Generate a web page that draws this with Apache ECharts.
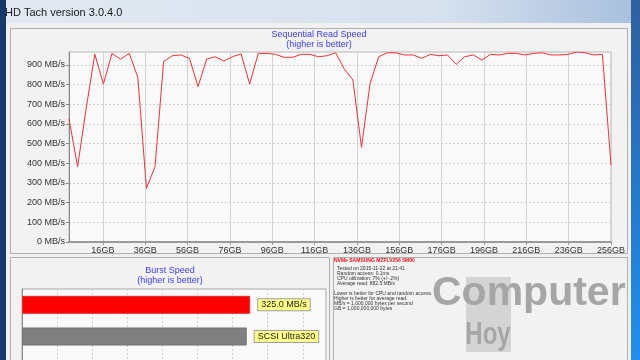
<!DOCTYPE html>
<html><head><meta charset="utf-8">
<script src="https://cdn.jsdelivr.net/npm/echarts@6/dist/echarts.min.js"></script>
<style>html,body{margin:0;padding:0;background:#f0f0f0;overflow:hidden}#c{width:640px;height:360px}</style>
</head><body><div id="c"></div>
<script>
// ---- data ----
const driveCapacityGB = 256;
const readSpeedMBs = [
  625, 383, 680, 955, 803, 959, 929, 959, 837, 273,
  383, 917, 947, 951, 934, 790, 930, 942, 920, 942,
  956, 803, 959, 959, 954, 939, 939, 954, 954, 942,
  947, 962, 880, 824, 481, 807, 942, 962, 962, 951,
  951, 934, 954, 947, 951, 903, 942, 951, 925, 954,
  951, 959, 959, 951, 959, 962, 951, 951, 954, 966,
  962, 951, 954, 391
];
const xTickGB = [16, 36, 56, 76, 96, 116, 136, 156, 176, 196, 216, 236, 256];
const yTickMBs = [0, 100, 200, 300, 400, 500, 600, 700, 800, 900];
const yMaxMBs = 966;
const burstCategories = ['Burst', 'Interface', ''];
const burstValues = [325.0, 320, null];
const burstLabels = ['325.0 MB/s', 'SCSI Ultra320', ''];
const burstTicks = 50;
const burstMax = 433;
const infoTitle = 'NVMe SAMSUNG MZFLV256 5M00';
const infoLines = [
  'Tested on 2015-11-22 at 21:41',
  'Random access: 0.1ms',
  'CPU utilization: 7% (+/- 2%)',
  'Average read: 882.5 MB/s',
  '',
  'Lower is better for CPU and random access.',
  'Higher is better for average read.',
  'MB/s = 1,000,000 bytes per second',
  'GB = 1,000,000,000 bytes'
];

const lineData = readSpeedMBs.map((v, i) => [i * driveCapacityGB / (readSpeedMBs.length - 1), v]);

const FONT = '"Liberation Sans", Arial, sans-serif';
const chart = echarts.init(document.getElementById('c'), null, {renderer: 'canvas'});

const graphics = [
  // desktop strips
  {type: 'rect', z: -20, shape: {x: 0, y: 0, width: 6, height: 360}, style: {fill: '#17386b'}},
  {type: 'rect', z: -20, shape: {x: 631, y: 0, width: 9, height: 360},
   style: {fill: new echarts.graphic.LinearGradient(0, 0, 0, 1, [{offset: 0, color: '#2f5f9e'}, {offset: 1, color: '#1f8ff0'}])}},
  // title bar
  {type: 'rect', z: -20, shape: {x: 6, y: 0, width: 625, height: 23},
   style: {fill: new echarts.graphic.LinearGradient(0, 0, 1, 0, [{offset: 0, color: '#e2e9f2'}, {offset: 0.7, color: '#d6e1ee'}, {offset: 1, color: '#a9c0de'}])}},
  {type: 'text', z: 5, style: {x: 5, y: 13, text: 'HD Tach version 3.0.4.0', fill: '#1a1a1a', font: '11px ' + FONT, verticalAlign: 'middle'}},
  // window body
  {type: 'rect', z: -19, shape: {x: 6, y: 23, width: 625, height: 337}, style: {fill: '#f0f0f0'}},
  // top panel
  {type: 'rect', z: -18, shape: {x: 10.5, y: 28.5, width: 617, height: 225}, style: {fill: '#f2f2f2', stroke: '#b0b0b0', lineWidth: 1}},
  {type: 'text', z: 5, style: {x: 319, y: 35, text: 'Sequential Read Speed', fill: '#3a3aff', font: '9px ' + FONT, align: 'center', verticalAlign: 'middle'}},
  {type: 'text', z: 5, style: {x: 319, y: 45, text: '(higher is better)', fill: '#3a3aff', font: '9px ' + FONT, align: 'center', verticalAlign: 'middle'}},
  // bottom-left panel
  {type: 'rect', z: -18, shape: {x: 10.5, y: 257.5, width: 319, height: 110}, style: {fill: '#f2f2f2', stroke: '#b0b0b0', lineWidth: 1}},
  {type: 'text', z: 5, style: {x: 170, y: 271, text: 'Burst Speed', fill: '#3a3aff', font: '9px ' + FONT, align: 'center', verticalAlign: 'middle'}},
  {type: 'text', z: 5, style: {x: 170, y: 281, text: '(higher is better)', fill: '#3a3aff', font: '9px ' + FONT, align: 'center', verticalAlign: 'middle'}},
  // bottom-right panel
  {type: 'rect', z: -18, shape: {x: 333.5, y: 257.5, width: 294, height: 110}, style: {fill: '#f2f2f2', stroke: '#b0b0b0', lineWidth: 1}},
  // logo watermark
  {type: 'rect', z: -10, shape: {x: 466, y: 277, width: 45, height: 75}, style: {fill: '#d4d4d4'}},
  {type: 'text', z: -9, style: {x: 432, y: 294, text: 'Computer', fill: '#a6a6a6', font: 'bold 41px ' + FONT, verticalAlign: 'middle'}},
  {type: 'text', z: -9, x: 488, y: 335, scaleX: 0.75, style: {x: 0, y: 0, text: 'Hoy', fill: '#a6a6a6', font: 'bold 32px ' + FONT, align: 'center', verticalAlign: 'middle'}},
  {type: 'text', z: 5, style: {x: 334, y: 261, text: infoTitle, fill: '#ee1111', font: 'bold 5px ' + FONT, verticalAlign: 'middle'}}
];
infoLines.forEach((t, i) => {
  graphics.push({type: 'text', z: 5, style: {x: i < 4 ? 337 : 334, y: 268.3 + i * 5.1, text: t, fill: '#333', font: '5px ' + FONT, verticalAlign: 'middle'}});
});

chart.setOption({
  animation: false,
  backgroundColor: '#f0f0f0',
  graphic: graphics,
  grid: [
    {left: 69, top: 52, width: 542, height: 190, show: true, backgroundColor: '#f9f9f9', borderColor: '#b8b8b8', borderWidth: 1, outerBoundsMode: 'none'},
    {left: 22, top: 289, width: 304, height: 95, show: true, backgroundColor: '#f9f9f9', borderColor: '#a8a8a8', borderWidth: 1, outerBoundsMode: 'none'}
  ],
  xAxis: [
    {type: 'value', gridIndex: 0, min: 0, max: driveCapacityGB,
     axisLine: {show: true, onZero: false, lineStyle: {color: '#9a9a9a', width: 2}},
     axisTick: {show: true, customValues: xTickGB, length: 3, lineStyle: {color: '#999'}},
     axisLabel: {customValues: xTickGB, formatter: v => v + 'GB', color: '#333', fontSize: 9, fontFamily: FONT, margin: 4},
     splitLine: {show: true, lineStyle: {color: '#d2d2d2', width: 1}}},
    {type: 'value', gridIndex: 1, min: 0, max: burstMax, interval: burstTicks,
     axisLine: {show: false}, axisTick: {show: false}, axisLabel: {show: false},
     splitLine: {show: true, lineStyle: {color: '#cfcfcf', type: [2, 2]}}}
  ],
  yAxis: [
    {type: 'value', gridIndex: 0, min: 0, max: yMaxMBs,
     axisLine: {show: true, lineStyle: {color: '#8a8a8a', width: 1}},
     axisTick: {show: true, customValues: yTickMBs, length: 3, lineStyle: {color: '#888'}},
     axisLabel: {customValues: yTickMBs, formatter: v => v + ' MB/s', color: '#333', fontSize: 9, fontFamily: FONT, margin: 4},
     splitLine: {show: true, lineStyle: {color: '#cfcfcf', type: [2, 2]}}},
    {type: 'category', gridIndex: 1, data: burstCategories, inverse: true,
     axisLine: {show: true, lineStyle: {color: '#8a8a8a'}}, axisTick: {show: false}, axisLabel: {show: false},
     splitLine: {show: false}}
  ],
  series: [
    {type: 'line', xAxisIndex: 0, yAxisIndex: 0, data: lineData, showSymbol: false, symbol: 'none',
     lineStyle: {color: '#f0303c', width: 1}, z: 3},
    {type: 'bar', xAxisIndex: 1, yAxisIndex: 1, barWidth: 18,
     data: burstValues.map((v, i) => ({value: v, itemStyle: {color: i === 0 ? '#ff0000' : '#808080', borderColor: i === 0 ? '#e03030' : '#707070', borderWidth: 1},
       label: {show: v != null, position: 'right', distance: 8, formatter: burstLabels[i],
         backgroundColor: '#ffff88', borderColor: '#a0a0a0', borderWidth: 1, padding: [1, 3, 1, 3],
         color: '#222', fontSize: 9, fontFamily: FONT}})),
     z: 3}
  ]
});
</script></body></html>
